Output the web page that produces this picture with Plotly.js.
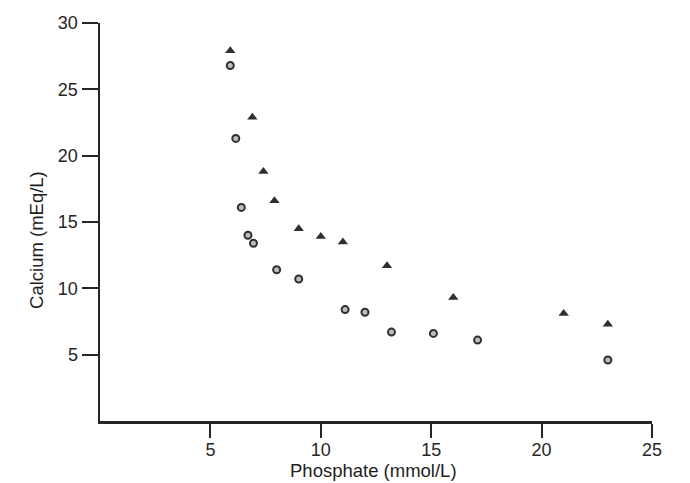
<!DOCTYPE html>
<html>
<head>
<meta charset="utf-8">
<script src="https://cdn.plot.ly/plotly-3.0.1.min.js"></script>
<style>
  html, body { margin: 0; padding: 0; background: #ffffff; }
  #chart { width: 690px; height: 483px; }
</style>
</head>
<body>
<div id="chart"></div>
<script>
// Series
const triangleX = [5.9, 6.9, 7.4, 7.9, 9.0, 10.0, 11.0, 13.0, 16.0, 21.0, 23.0];
const triangleY = [27.9, 22.9, 18.8, 16.6, 14.5, 13.9, 13.5, 11.7, 9.3, 8.1, 7.3];
const circleX = [5.9, 6.15, 6.4, 6.7, 6.95, 8.0, 9.0, 11.1, 12.0, 13.2, 15.1, 17.1, 23.0];
const circleY = [26.8, 21.3, 16.1, 14.0, 13.4, 11.4, 10.7, 8.4, 8.2, 6.7, 6.6, 6.1, 4.6];

const xTicks = [5, 10, 15, 20, 25];
const yTicks = [5, 10, 15, 20, 25, 30];
const xTitle = "Phosphate (mmol/L)";
const yTitle = "Calcium (mEq/L)";

const ink = "#262626";
const fontFam = "Liberation Sans, Arial, Helvetica, sans-serif";

const traces = [
  {
    x: triangleX, y: triangleY, type: "scatter", mode: "markers",
    name: "triangles",
    marker: { symbol: "triangle-up", size: 9, color: "#2f2f2f", line: { width: 0 } }
  },
  {
    x: circleX, y: circleY, type: "scatter", mode: "markers",
    name: "circles",
    marker: { symbol: "circle", size: 7, color: "#bdbdbd", line: { color: "#2f2f2f", width: 2 } }
  }
];

const layout = {
  width: 690, height: 483,
  margin: { l: 100, r: 38, t: 23, b: 62 },
  paper_bgcolor: "#ffffff",
  plot_bgcolor: "#ffffff",
  showlegend: false,
  font: { family: fontFam, color: "#262626", size: 18 },
  xaxis: {
    range: [0, 25],
    tickvals: xTicks,
    ticktext: xTicks.map(String),
    ticks: "outside", ticklen: 14, tickwidth: 2, tickcolor: ink,
    ticklabelstandoff: -3,
    showline: true, linecolor: ink, linewidth: 2.5,
    showgrid: false, zeroline: false,
    tickfont: { family: fontFam, size: 18, color: "#262626" }
  },
  yaxis: {
    range: [0, 30],
    tickvals: yTicks,
    ticktext: yTicks.map(String),
    ticks: "outside", ticklen: 16, tickwidth: 2, tickcolor: ink,
    showline: true, linecolor: ink, linewidth: 2.5,
    showgrid: false, zeroline: false,
    tickfont: { family: fontFam, size: 18, color: "#262626" }
  },
  annotations: [
    {
      text: xTitle, xref: "paper", yref: "paper",
      x: 0.495, y: -0.125, xanchor: "center", yanchor: "middle",
      showarrow: false,
      font: { family: fontFam, size: 18.5, color: "#1e1e1e" }
    },
    {
      text: yTitle, xref: "paper", yref: "paper",
      x: -0.114, y: 0.455, xanchor: "center", yanchor: "middle",
      textangle: -90, showarrow: false,
      font: { family: fontFam, size: 18.5, color: "#1e1e1e" }
    }
  ]
};

Plotly.newPlot("chart", traces, layout, { displayModeBar: false, staticPlot: true });
</script>
</body>
</html>
